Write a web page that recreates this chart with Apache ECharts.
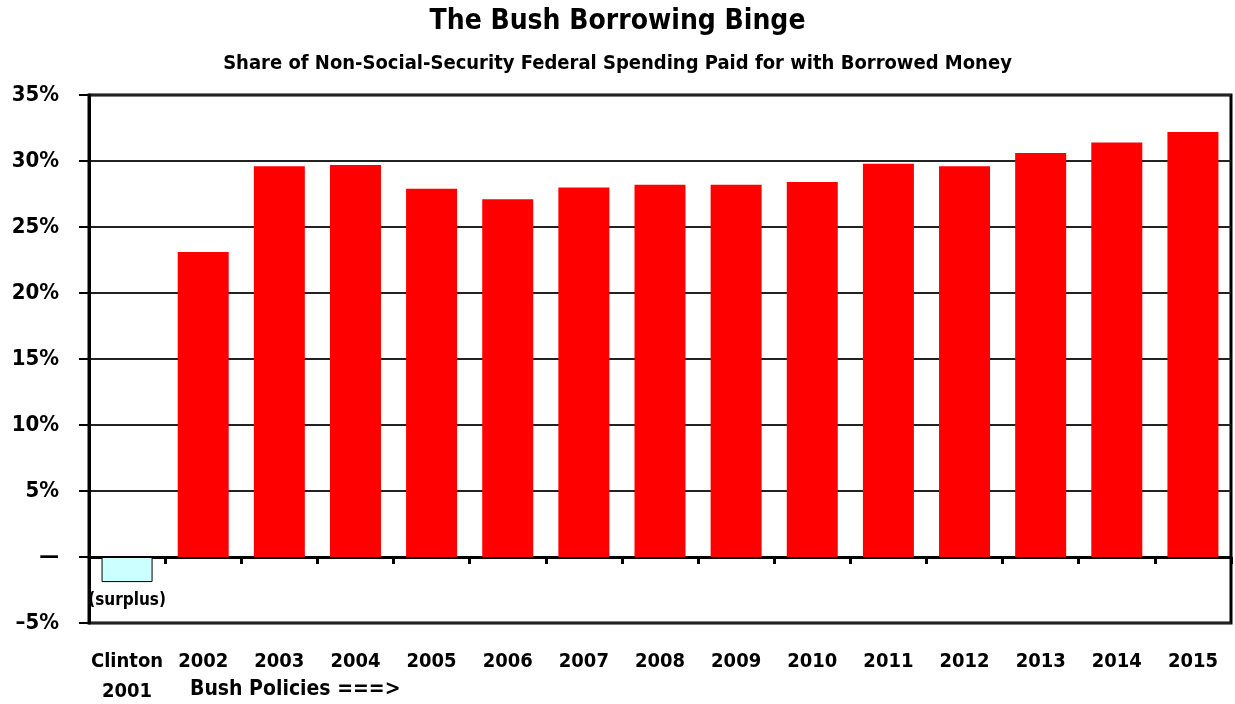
<!DOCTYPE html>
<html>
<head>
<meta charset="utf-8">
<script src="https://cdn.jsdelivr.net/npm/echarts@6/dist/echarts.min.js"></script>
<style>
html,body{margin:0;padding:0;background:#fff;}
#chart{width:1235px;height:704px;}
</style>
</head>
<body>
<div id="chart"></div>
<script>
// data
var years = ['Clinton\n2001', '2002', '2003', '2004', '2005', '2006', '2007', '2008', '2009', '2010', '2011', '2012', '2013', '2014', '2015'];
var borrowedShare = [-1.9, 23.1, 29.6, 29.7, 27.9, 27.1, 28.0, 28.2, 28.2, 28.4, 29.8, 29.6, 30.6, 31.4, 32.2];
var yTicks = {'-5': '\u20135%', '0': '\u2014', '5': '5%', '10': '10%', '15': '15%', '20': '20%', '25': '25%', '30': '30%', '35': '35%'};

var font = '"Liberation Sans Narrow", "DejaVu Sans Condensed", "Arial Narrow", "Liberation Sans", Arial, sans-serif';

var chart = echarts.init(document.getElementById('chart'));
var option = {
	animation: false,
	backgroundColor: '#fff',
	textStyle: {fontFamily: font},
	title: [
		{
			text: 'The Bush Borrowing Binge',
			left: 'center', top: 3,
			textStyle: {fontFamily: font, fontSize: 28, fontWeight: 'bold', color: '#000'}
		},
		{
			text: 'Share of Non-Social-Security Federal Spending Paid for with Borrowed Money',
			left: 'center', top: 49,
			textStyle: {fontFamily: font, fontSize: 20, fontWeight: 'bold', color: '#000'}
		}
	],
	grid: {left: 89, right: 4, top: 95, bottom: 81, containLabel: false, outerBoundsMode: 'none',
		show: true, borderColor: '#000', borderWidth: 3},
	xAxis: [
		{
			// labels under the plot
			type: 'category',
			data: years,
			position: 'bottom',
			axisLine: {onZero: false, show: false},
			axisTick: {show: false},
			axisLabel: {
				show: true, interval: 0, margin: 24, color: '#000',
				fontFamily: font, fontSize: 20, fontWeight: 'bold', lineHeight: 30
			}
		},
		{
			// zero line with ticks
			type: 'category',
			data: years,
			position: 'bottom',
			axisLine: {onZero: true, lineStyle: {color: '#000', width: 3}},
			axisTick: {show: true, inside: false, length: 7, alignWithLabel: false, lineStyle: {color: '#000', width: 3}},
			axisLabel: {show: false}
		}
	],
	yAxis: {
		type: 'value',
		min: -5, max: 35, interval: 5,
		axisLine: {show: true, lineStyle: {color: '#000', width: 3}},
		axisTick: {show: true, length: 10, lineStyle: {color: '#000', width: 2}},
		splitLine: {show: true, lineStyle: {color: '#222', width: 2}},
		axisLabel: {
			color: '#000', fontFamily: font, fontSize: 22, fontWeight: 'bold', margin: 30,
			formatter: function (v) { return yTicks[String(v)]; }
		}
	},
	series: [{
		type: 'bar',
		xAxisIndex: 0,
		barWidth: '67%',
		data: borrowedShare.map(function (v, i) {
			if (v < 0) {
				return {
					value: v,
					itemStyle: {color: '#ccffff', borderColor: '#000', borderWidth: 1},
					label: {
						show: true, position: 'bottom', distance: 10,
						formatter: '(surplus)', color: '#000',
						fontFamily: font, fontSize: 17, fontWeight: 'bold'
					}
				};
			}
			return v;
		}),
		itemStyle: {color: '#ff0000'}
	}],
	graphic: [{
		type: 'text',
		left: 190, top: 679,
		style: {
			text: 'Bush Policies ===>',
			fontFamily: font, fontSize: 21, fontWeight: 'bold', fill: '#000'
		}
	}]
};
chart.setOption(option);
</script>
</body>
</html>
